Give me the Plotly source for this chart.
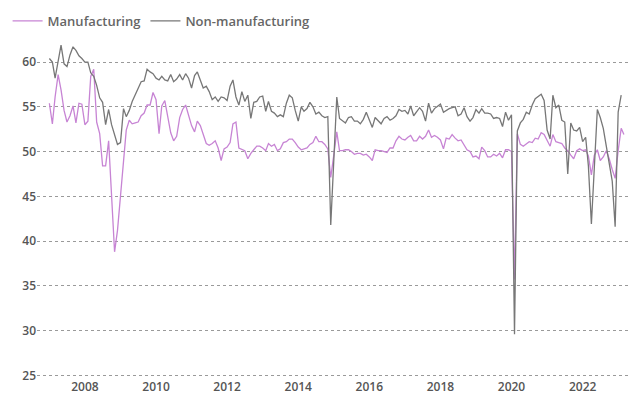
import plotly.graph_objects as go
import pandas as pd

months = pd.date_range("2007-01-01", "2023-03-01", freq="MS")

manufacturing = [
    55.4, 53.1, 56.1, 58.6, 56.9, 54.6, 53.3, 54.0, 55.1, 53.2, 55.4, 55.3,
    53.0, 53.4, 58.4, 59.2, 53.3, 52.0, 48.4, 48.4, 51.2, 44.6, 38.8, 41.2,
    45.3, 49.0, 52.4, 53.5, 53.1, 53.2, 53.3, 54.0, 54.3, 55.2, 55.2, 56.6,
    55.8, 52.0, 55.1, 55.7, 53.9, 52.1, 51.2, 51.7, 53.8, 54.7, 55.2, 53.9,
    52.9, 52.2, 53.4, 52.9, 52.0, 50.9, 50.7, 50.9, 51.2, 50.4, 49.0, 50.3,
    50.5, 51.0, 53.1, 53.3, 50.4, 50.2, 50.1, 49.2, 49.8, 50.2, 50.6, 50.6,
    50.4, 50.1, 50.9, 50.6, 50.8, 50.1, 50.3, 51.0, 51.1, 51.4, 51.4, 51.0,
    50.5, 50.2, 50.3, 50.4, 50.8, 51.0, 51.7, 51.1, 51.1, 50.8, 50.3, 47.1,
    49.6, 52.2, 50.1, 50.1, 50.2, 50.2, 50.0, 49.7, 49.8, 49.8, 49.6, 49.7,
    49.4, 49.0, 50.2, 50.1, 50.1, 50.0, 49.9, 50.4, 50.4, 51.2, 51.7, 51.4,
    51.3, 51.6, 51.8, 51.2, 51.2, 51.7, 51.4, 51.7, 52.4, 51.6, 51.8, 51.6,
    51.3, 50.3, 51.5, 51.4, 51.9, 51.5, 51.2, 51.3, 50.8, 50.2, 50.0, 49.4,
    49.5, 49.2, 50.5, 50.1, 49.4, 49.4, 49.7, 49.5, 49.8, 49.3, 50.2, 50.2,
    50.0, 35.7, 52.0, 50.8, 50.6, 50.9, 51.1, 51.0, 51.5, 51.4, 52.1, 51.9,
    51.3, 50.6, 51.9, 51.1, 51.0, 50.9, 50.4, 50.1, 49.6, 49.2, 50.1, 50.3,
    50.1, 50.2, 49.5, 47.4, 49.6, 50.2, 49.0, 49.4, 50.1, 49.2, 48.0, 47.0,
    50.1, 52.6, 51.9,
]

non_manufacturing = [
    60.4, 60.0, 58.2, 60.0, 61.9, 59.8, 59.5, 60.8, 61.7, 61.3, 60.7, 60.4,
    60.0, 60.0, 58.8, 58.4, 57.4, 56.0, 55.5, 53.0, 54.7, 53.0, 52.0, 50.8,
    51.0, 54.8, 53.9, 54.6, 55.6, 56.4, 57.1, 57.8, 57.9, 59.2, 58.9, 58.7,
    58.2, 58.0, 58.4, 58.0, 57.9, 58.6, 57.8, 58.1, 58.6, 58.0, 58.7, 58.2,
    57.1, 58.5, 58.9, 57.9, 57.1, 57.3, 56.7, 55.8, 56.1, 55.6, 56.1, 56.0,
    55.7, 57.3, 58.0, 56.1, 55.2, 56.7, 55.6, 56.3, 53.7, 55.5, 55.6, 56.1,
    56.2, 54.5, 55.6, 54.5, 54.3, 53.9, 54.1, 53.9, 55.4, 56.3, 56.0, 54.6,
    53.4, 55.0, 54.5, 54.8, 55.5, 55.0, 54.2, 54.4, 54.0, 53.8, 53.9, 41.8,
    49.0, 56.1, 53.7, 53.4, 53.2, 53.8, 53.9, 53.4, 53.4, 53.1, 53.6, 54.4,
    53.5, 52.7, 53.8, 53.5, 53.1, 53.7, 53.9, 53.5, 53.7, 54.0, 54.7, 54.5,
    54.6, 54.2, 55.1, 54.0, 54.5, 54.9, 54.5, 53.4, 55.4, 54.3, 54.8, 55.0,
    55.3, 54.4, 54.6, 54.8, 54.9, 55.0, 54.0, 54.2, 54.9, 53.9, 53.4, 53.8,
    54.7, 54.3, 54.8, 54.3, 54.3, 54.2, 53.7, 53.8, 53.7, 52.8, 54.4, 53.5,
    54.1, 29.6, 52.3, 53.2, 53.6, 54.4, 54.2, 55.2, 55.9, 56.2, 56.4, 55.7,
    52.4, 51.4, 56.3, 54.9, 55.2, 53.5, 53.3, 47.5, 53.2, 52.4, 52.3, 52.7,
    51.1, 51.6, 48.4, 41.9, 47.8, 54.7, 53.8, 52.6, 50.6, 48.7, 46.7, 41.6,
    54.4, 56.3,
]

y_ticks = [25, 30, 35, 40, 45, 50, 55, 60]
x_ticks = ["2008-01-01", "2010-01-01", "2012-01-01", "2014-01-01",
           "2016-01-01", "2018-01-01", "2020-01-01", "2022-01-01"]
x_tick_labels = ["2008", "2010", "2012", "2014", "2016", "2018", "2020", "2022"]

fig = go.Figure()
fig.add_trace(go.Scatter(
    x=months[:len(manufacturing)], y=manufacturing, name="Manufacturing",
    mode="lines", line=dict(color="#c784d4", width=1.3),
))
fig.add_trace(go.Scatter(
    x=months[:len(non_manufacturing)], y=non_manufacturing, name="Non-manufacturing",
    mode="lines", line=dict(color="#777777", width=1.3),
))

FONT = "Open Sans, sans-serif"

fig.update_layout(
    width=633, height=394,
    margin=dict(l=37, r=5, t=37, b=16, autoexpand=False),
    paper_bgcolor="white", plot_bgcolor="white",
    font=dict(family=FONT, size=12, color="#555555"),
    showlegend=True,
    legend=dict(
        orientation="h", xref="container", yref="container",
        x=0.012, y=0.985, xanchor="left", yanchor="top",
        font=dict(family=FONT, size=13, color="#666666", weight=600),
        itemwidth=30, tracegroupgap=0,
        bgcolor="rgba(0,0,0,0)",
    ),
    xaxis=dict(
        type="date",
        range=["2006-08-27", "2023-04-12"],
        tickvals=x_ticks, ticktext=x_tick_labels,
        showgrid=False, zeroline=False, showline=False,
        ticks="", automargin=False,
        tickfont=dict(family=FONT, size=12, color="#555555", weight=600),
    ),
    yaxis=dict(
        range=[24.7, 62.8],
        tickvals=y_ticks,
        showgrid=True, gridcolor="#9a9a9a", griddash="dot", gridwidth=1,
        zeroline=False, showline=False, ticks="",
        automargin=False,
        tickfont=dict(family=FONT, size=12, color="#555555", weight=600),
    ),
)

fig.write_html(
    "out.html",
    config={"displayModeBar": False},
    post_script="document.body.style.margin='0';document.body.style.overflow='hidden';",
)
